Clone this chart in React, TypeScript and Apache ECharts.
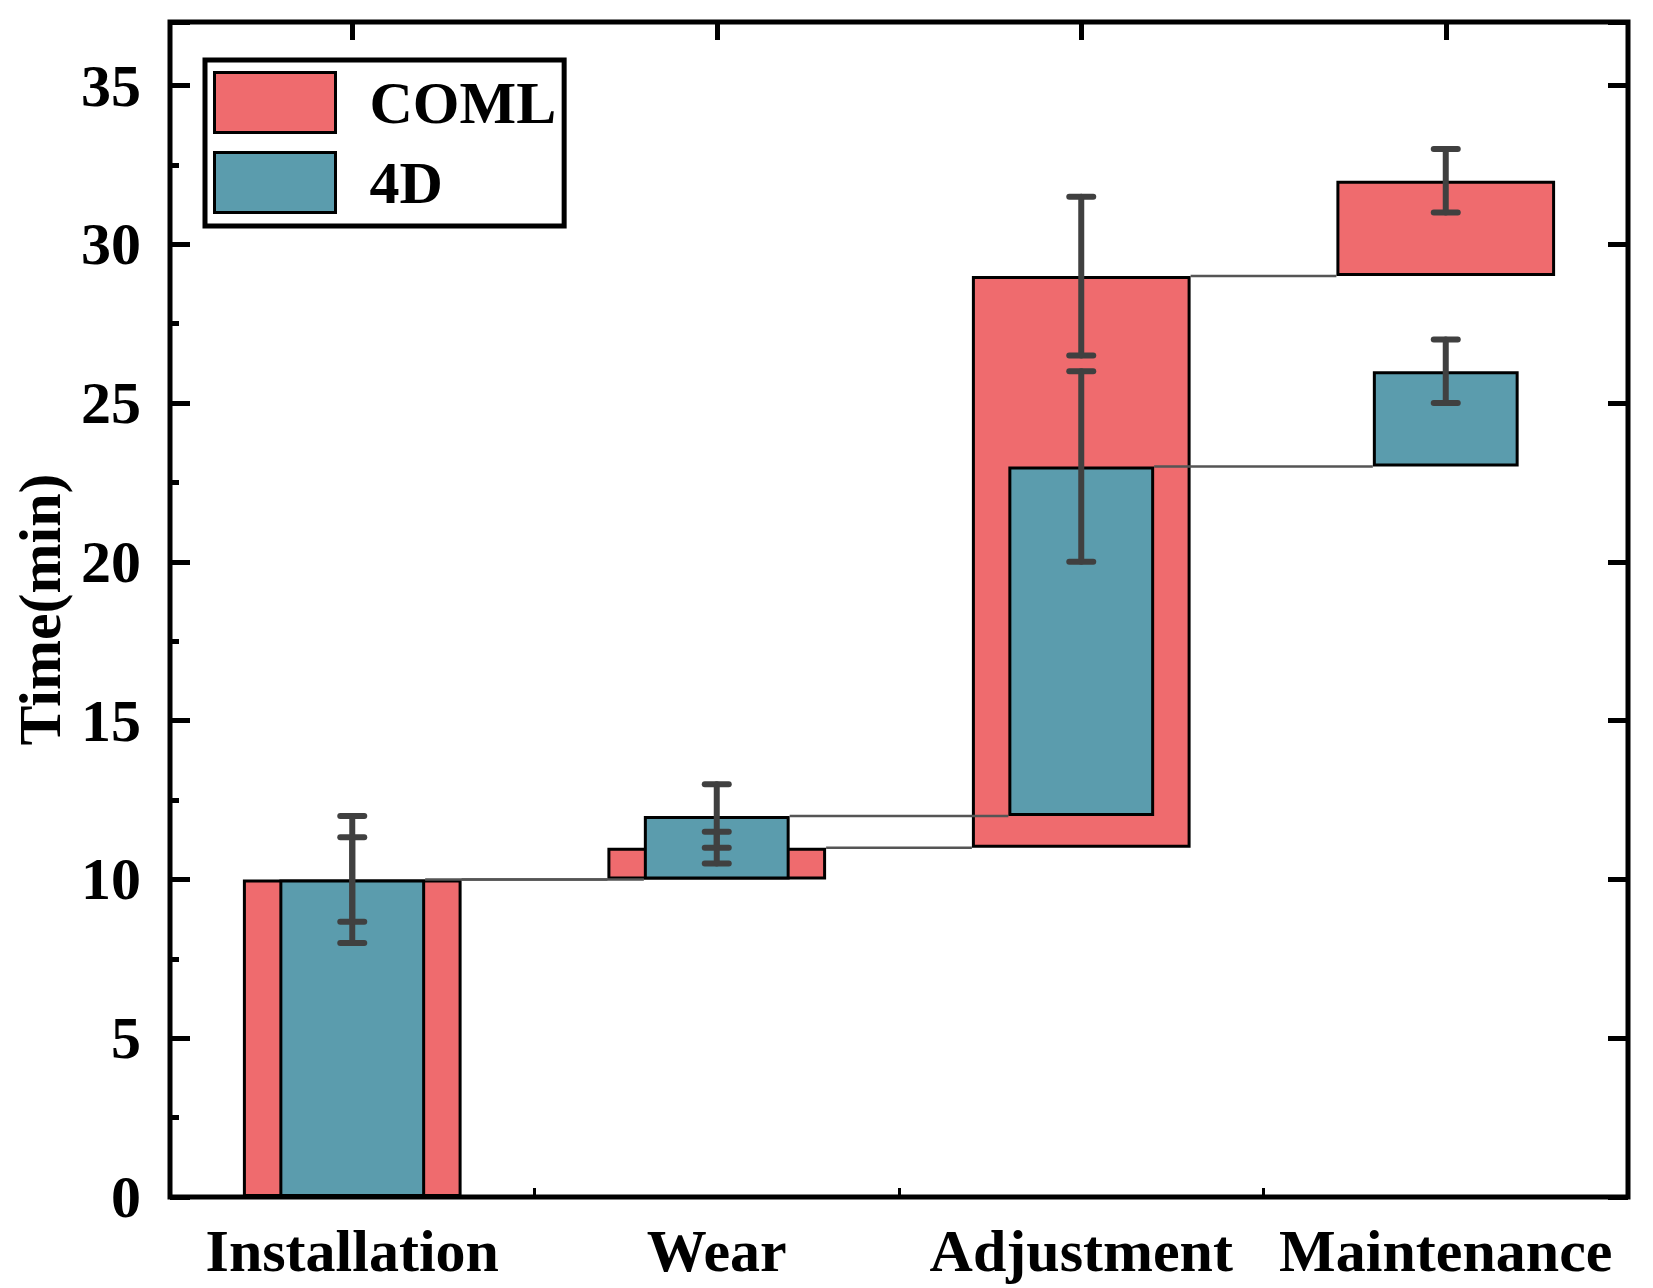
import React, { useEffect, useRef } from 'react';
import * as echarts from 'echarts';

const categories = ['Installation', 'Wear', 'Adjustment', 'Maintenance'];
const comlStart = [0, 10, 11, 29];
const comlEnd = [10, 11, 29, 32];
const comlError = [2, 0.5, 2.5, 1];
const fourDStart = [0, 10, 12, 23];
const fourDEnd = [10, 12, 23, 26];
const fourDError = [1.33, 1, 3, 1];

const RED = '#EF6B6E';
const TEAL = '#5B9CAD';
const FONT = 'Liberation Serif';
const COML_W = 0.6;
const FOURD_W = 0.4;

const connector = (frac: number) => (params: any, api: any) => {
  const i = api.value(0);
  const v = api.value(1);
  const p1 = api.coord([i, v]);
  const p2 = api.coord([i + 1, v]);
  const w = api.size([1, 0])[0] * frac;
  return {
    type: 'line',
    shape: { x1: p1[0] + w / 2, y1: p1[1], x2: p2[0] - w / 2, y2: p2[1] },
    style: { stroke: '#555555', lineWidth: 2.5 },
  };
};

const errorBar = (params: any, api: any) => {
  const i = api.value(0);
  const c = api.value(1);
  const e = api.value(2);
  const top = api.coord([i, c + e]);
  const bot = api.coord([i, c - e]);
  const x = top[0];
  const hw = 12;
  const style = { stroke: '#404040', lineWidth: 6, lineCap: 'round' };
  return {
    type: 'group',
    children: [
      { type: 'line', shape: { x1: x, y1: top[1], x2: x, y2: bot[1] }, style },
      { type: 'line', shape: { x1: x - hw, y1: top[1], x2: x + hw, y2: top[1] }, style },
      { type: 'line', shape: { x1: x - hw, y1: bot[1], x2: x + hw, y2: bot[1] }, style },
    ],
  };
};

export default function App() {
  const ref = useRef<HTMLDivElement>(null);
  useEffect(() => {
    if (!ref.current) return;
    const chart = echarts.init(ref.current, null, { renderer: 'svg' });
    const labelStyle = { fontFamily: FONT, fontWeight: 'bold', fontSize: 60, color: '#000' };
    const option: any = {
      animation: false,
      backgroundColor: '#fff',
      grid: {
        left: 170,
        right: 25,
        top: 22,
        bottom: 91,
        show: true,
        borderColor: '#000',
        borderWidth: 5,
        backgroundColor: 'transparent',
        containLabel: false,
      },
      legend: {
        data: [
          { name: 'COML', icon: 'rect' },
          { name: '4D', icon: 'rect' },
        ],
        orient: 'vertical',
        left: 205,
        top: 60,
        padding: [11, 8, 12, 8],
        itemWidth: 121,
        itemHeight: 60,
        itemGap: 17,
        borderColor: '#000',
        borderWidth: 5,
        selectedMode: false,
        itemStyle: { borderColor: '#000', borderWidth: 3 },
        textStyle: { ...labelStyle, padding: [0, 0, 0, 29] },
      },
      xAxis: [
        {
          type: 'category',
          data: categories,
          position: 'bottom',
          axisLine: { show: false, onZero: false },
          axisTick: { show: true, inside: true, length: 9, lineStyle: { color: '#000', width: 3 } },
          axisLabel: { ...labelStyle, interval: 0, margin: 24 },
          splitLine: { show: false },
        },
        {
          type: 'category',
          data: categories,
          position: 'top',
          axisLine: { show: false, onZero: false },
          axisTick: { show: true, inside: true, alignWithLabel: true, length: 18, lineStyle: { color: '#000', width: 5 } },
          axisLabel: { show: false },
          splitLine: { show: false },
        },
      ],
      yAxis: [
        {
          type: 'value',
          min: 0,
          max: 37,
          interval: 5,
          position: 'left',
          name: 'Time(min)',
          nameLocation: 'middle',
          nameGap: 90,
          nameTextStyle: { fontFamily: FONT, fontWeight: 'bold', fontSize: 60, color: '#000' },
          axisLine: { show: false, onZero: false },
          axisTick: { show: true, inside: true, length: 20, lineStyle: { color: '#000', width: 5 } },
          axisLabel: {
            ...labelStyle,
            margin: 29,
            formatter: (v: number) => (v % 5 === 0 ? String(v) : ''),
          },
          splitLine: { show: false },
        },
        {
          type: 'value',
          min: 0,
          max: 37,
          interval: 5,
          position: 'right',
          axisLine: { show: false, onZero: false },
          axisTick: { show: true, inside: true, length: 20, lineStyle: { color: '#000', width: 5 } },
          axisLabel: { show: false },
          splitLine: { show: false },
        },
        {
          type: 'value',
          min: 0,
          max: 37,
          interval: 2.5,
          position: 'left',
          axisLine: { show: false, onZero: false },
          axisTick: { show: true, inside: true, length: 9, lineStyle: { color: '#000', width: 5 } },
          axisLabel: { show: false },
          splitLine: { show: false },
        },
      ],
      series: [
        {
          name: 'COML base',
          type: 'bar',
          xAxisIndex: 0,
          yAxisIndex: 0,
          stack: 'coml',
          barWidth: `${COML_W * 100}%`,
          itemStyle: { color: 'transparent', borderWidth: 0 },
          silent: true,
          data: comlStart,
        },
        {
          name: 'COML',
          type: 'bar',
          xAxisIndex: 0,
          yAxisIndex: 0,
          stack: 'coml',
          barWidth: `${COML_W * 100}%`,
          itemStyle: { color: RED, borderColor: '#000', borderWidth: 3 },
          data: comlEnd.map((v, i) => v - comlStart[i]),
          z: 2,
        },
        {
          name: '4D base',
          type: 'bar',
          xAxisIndex: 1,
          yAxisIndex: 0,
          stack: 'fourd',
          barWidth: `${FOURD_W * 100}%`,
          itemStyle: { color: 'transparent', borderWidth: 0 },
          silent: true,
          data: fourDStart,
          z: 3,
        },
        {
          name: '4D',
          type: 'bar',
          xAxisIndex: 1,
          yAxisIndex: 0,
          stack: 'fourd',
          barWidth: `${FOURD_W * 100}%`,
          itemStyle: { color: TEAL, borderColor: '#000', borderWidth: 3 },
          data: fourDEnd.map((v, i) => v - fourDStart[i]),
          z: 3,
        },
        {
          name: 'COML link',
          type: 'custom',
          xAxisIndex: 0,
          yAxisIndex: 0,
          renderItem: connector(COML_W),
          encode: { x: 0, y: 1 },
          data: comlEnd.slice(0, -1).map((v, i) => [i, v]),
          z: 4,
          silent: true,
        },
        {
          name: '4D link',
          type: 'custom',
          xAxisIndex: 0,
          yAxisIndex: 0,
          renderItem: connector(FOURD_W),
          encode: { x: 0, y: 1 },
          data: fourDEnd.slice(0, -1).map((v, i) => [i, v]),
          z: 4,
          silent: true,
        },
        {
          name: 'COML error',
          type: 'custom',
          xAxisIndex: 0,
          yAxisIndex: 0,
          renderItem: errorBar,
          encode: { x: 0, y: 1 },
          data: comlEnd.map((v, i) => [i, v, comlError[i]]),
          z: 5,
          silent: true,
        },
        {
          name: '4D error',
          type: 'custom',
          xAxisIndex: 0,
          yAxisIndex: 0,
          renderItem: errorBar,
          encode: { x: 0, y: 1 },
          data: fourDEnd.map((v, i) => [i, v, fourDError[i]]),
          z: 5,
          silent: true,
        },
      ],
    };
    chart.setOption(option);
    return () => chart.dispose();
  }, []);
  return (
    <div
      ref={ref}
      style={{ position: 'absolute', left: 0, top: 0, width: 1653, height: 1288, background: '#fff' }}
    />
  );
}
